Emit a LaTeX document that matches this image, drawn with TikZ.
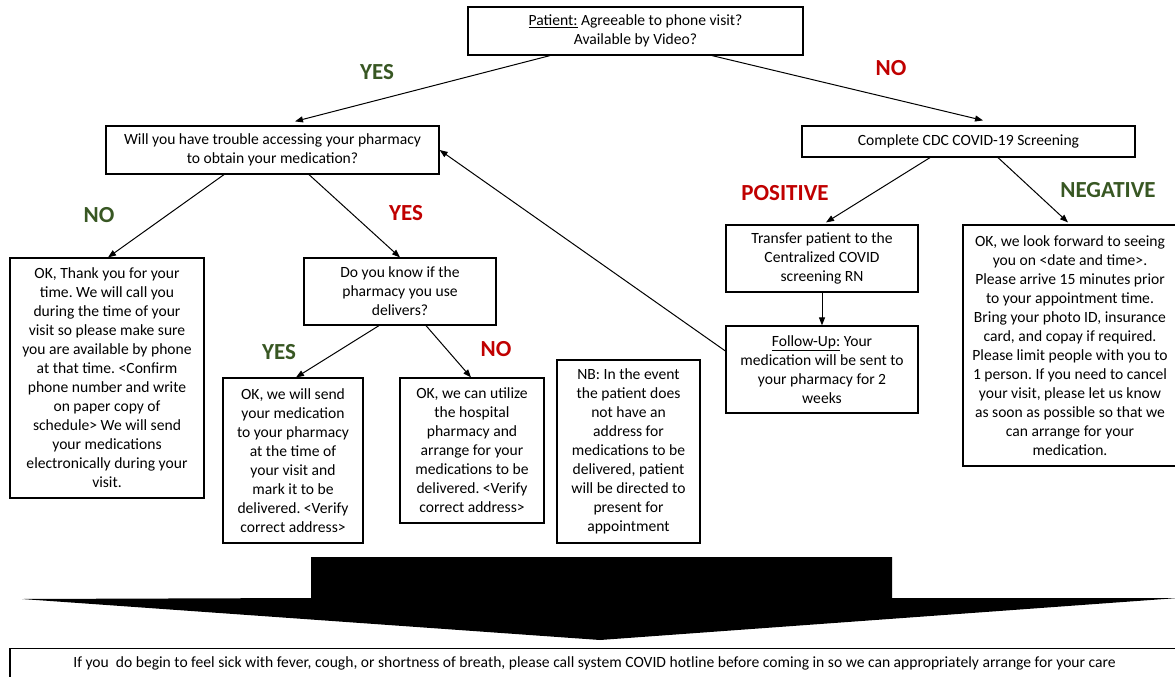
\documentclass[tikz,border=0pt]{standalone}
\usepackage{fontspec}
\setmainfont{Carlito}
\usetikzlibrary{arrows.meta}
\definecolor{dgreen}{RGB}{56,87,35}
\definecolor{dred}{RGB}{192,0,0}
\frenchspacing
\begin{document}
\begin{tikzpicture}[x=1pt,y=-1pt,
  box/.style={draw=black, line width=1.2pt, align=center, inner sep=0pt,
    font=\fontsize{15.6}{19}\selectfont},
  lab/.style={inner sep=0pt, font=\fontsize{23}{27}\selectfont\bfseries},
  greenlab/.style={lab, text=dgreen},
  redlab/.style={lab, text=dred},
  arr/.style={line width=1pt, -{Triangle[length=8pt,width=6pt]}}
]
\useasboundingbox (0,0) rectangle (1175,677);

% boxes
\node[box, minimum width=335pt, minimum height=48pt] (top) at (635.5,31)
  {\underline{Patient:} Agreeable to phone visit?\\Available by Video?};
\node[box, minimum width=333pt, minimum height=48pt] (q1) at (272.5,150)
  {Will you have trouble accessing your pharmacy\\to obtain your medication?};
\node[box, minimum width=333pt, minimum height=31pt] (cdc) at (968.5,141.5)
  {Complete CDC COVID-19 Screening};
\node[box, minimum width=194pt, minimum height=240pt] (a) at (107,378)
  {OK, Thank you for your\\time. We will call you\\during the time of your\\visit so please make sure\\you are available by phone\\at that time. <Confirm\\phone number and write\\on paper copy of\\schedule> We will send\\your medications\\electronically during your\\visit.};
\node[box, minimum width=192pt, minimum height=67pt] (b) at (400,291.5)
  {Do you know if the\\pharmacy you use\\delivers?};
\node[box, minimum width=140pt, minimum height=165pt] (c) at (293,460.5)
  {OK, we will send\\your medication\\to your pharmacy\\at the time of\\your visit and\\mark it to be\\delivered. <Verify\\correct address>};
\node[box, minimum width=144pt, minimum height=145pt] (d) at (472,450.5)
  {OK, we can utilize\\the hospital\\pharmacy and\\arrange for your\\medications to be\\delivered. <Verify\\correct address>};
\node[box, minimum width=143pt, minimum height=183pt] (nb) at (628.5,451.5)
  {NB: In the event\\the patient does\\not have an\\address for\\medications to be\\delivered, patient\\will be directed to\\present for\\appointment};
\node[box, minimum width=192pt, minimum height=67pt] (tr) at (822,258.5)
  {Transfer patient to the\\Centralized COVID\\screening RN};
\node[box, minimum width=192pt, minimum height=87pt] (fu) at (822,369.5)
  {\underline{Follow-Up:} Your\\medication will be sent to\\your pharmacy for 2\\weeks};
\node[box, minimum width=214pt, minimum height=241pt] (ok) at (1070,345.5)
  {OK, we look forward to seeing\\you on <date and time>.\\Please arrive 15 minutes prior\\to your appointment time.\\Bring your photo ID, insurance\\card, and copay if required.\\Please limit people with you to\\1 person. If you need to cancel\\your visit, please let us know\\as soon as possible so that we\\can arrange for your\\medication.};
\node[box, minimum width=1169pt, minimum height=30pt, anchor=north] (bot) at (594.5,648)
  {If you~ do begin to feel sick with fever, cough, or shortness of breath, please call system COVID hotline before coming in so we can appropriately arrange for your care};

% labels
\node[greenlab] (l1) at (377,72) {YES};
\node[redlab] (l2) at (891,68) {NO};
\node[greenlab] (l3) at (99,215) {NO};
\node[redlab] (l4) at (406,213) {YES};
\node[redlab] (l5) at (785,193) {POSITIVE};
\node[greenlab] (l6) at (1108,190) {NEGATIVE};
\node[greenlab] (l7) at (279,352) {YES};
\node[redlab] (l8) at (496,349) {NO};

% connectors
\draw[arr] ([xshift=-85.5pt]top.south) -- ([xshift=22.5pt,yshift=4pt]q1.north);
\draw[arr] ([xshift=76.5pt]top.south) -- ([xshift=14.5pt,yshift=5pt]cdc.north);
\draw[arr] ([xshift=-48.5pt]q1.south) -- ([xshift=1pt]a.north);
\draw[arr] ([xshift=36.5pt]q1.south) -- (b.north);
\draw[arr] ([xshift=-38.5pt]cdc.south) -- ([xshift=4pt,yshift=2pt]tr.north);
\draw[arr] ([xshift=29.5pt]cdc.south) -- ([xshift=-2pt,yshift=2pt]ok.north);
\draw[arr] ([xshift=-21pt]b.south) -- ([xshift=3pt]c.north);
\draw[arr] ([xshift=26pt]b.south) -- ([xshift=-1pt]d.north);
\draw[arr] (tr.south) -- (fu.north);
\draw[arr] ([yshift=18.5pt]fu.west) -- (q1.east);

% big block arrow
\fill[black] (311,557) -- (892,557) -- (892,598) -- (1178,598) -- (600,640)
  -- (22,599) -- (311,598) -- cycle;
\end{tikzpicture}
\end{document}
